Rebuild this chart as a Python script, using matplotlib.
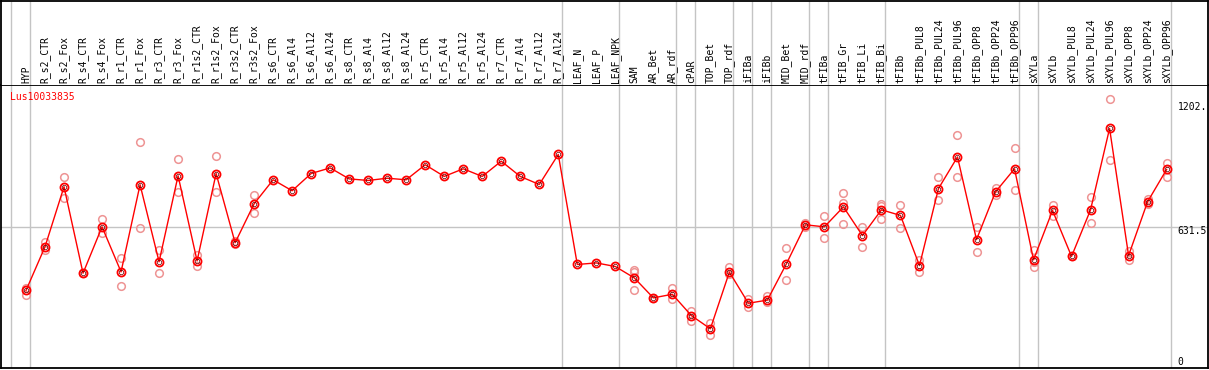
import numpy as np
import matplotlib
matplotlib.use("Agg")
import matplotlib.pyplot as plt
import matplotlib.transforms as mtransforms

# sample names, left to right
samples = [
    "HYP", "R_s2_CTR", "R_s2_Fox", "R_s4_CTR", "R_s4_Fox", "R_r1_CTR", "R_r1_Fox",
    "R_r3_CTR", "R_r3_Fox", "R_r1s2_CTR", "R_r1s2_Fox", "R_r3s2_CTR", "R_r3s2_Fox",
    "R_s6_CTR", "R_s6_Al4", "R_s6_Al12", "R_s6_Al24", "R_s8_CTR", "R_s8_Al4",
    "R_s8_Al12", "R_s8_Al24", "R_r5_CTR", "R_r5_Al4", "R_r5_Al12", "R_r5_Al24",
    "R_r7_CTR", "R_r7_Al4", "R_r7_Al12", "R_r7_Al24", "LEAF_N", "LEAF_P", "LEAF_NPK",
    "SAM", "AR_Bet", "AR_rdf", "cPAR", "TOP_Bet", "TOP_rdf", "iFIBa", "iFIBb",
    "MID_Bet", "MID_rdf", "tFIBa", "tFIB_Gr", "tFIB_Li", "tFIB_Bi", "tFIBb",
    "tFIBb_PUL8", "tFIBb_PUL24", "tFIBb_PUL96", "tFIBb_OPP8", "tFIBb_OPP24",
    "tFIBb_OPP96", "sXYLa", "sXYLb", "sXYLb_PUL8", "sXYLb_PUL24", "sXYLb_PUL96",
    "sXYLb_OPP8", "sXYLb_OPP24", "sXYLb_OPP96",
]

# mean expression per sample
means = [
    346, 541, 809, 423, 630, 429, 818, 474, 858, 478, 868, 559, 733,
    840, 791, 868, 893, 844, 837, 847, 840, 907, 855, 889, 855, 923, 855, 819, 953,
    462, 469, 453, 402, 313, 329, 234, 175, 428, 289, 303, 465, 639,
    630, 719, 591, 706, 681, 457, 801, 942, 573, 786, 889,
    483, 703, 498, 706, 1069, 502, 742, 886,
]

# individual replicates (pale circles)
replicates = [
    [358, 325], [563, 526], [853, 760], [423, 423], [663, 603], [489, 368],
    [1010, 626], [526, 423], [934, 785], [505, 454], [947, 785], [552, 565],
    [773, 693], [], [], [], [], [], [], [], [], [], [], [], [], [], [], [], [],
    [], [], [], [438, 428, 349], [313, 313], [359, 309], [255, 208], [202, 148],
    [452, 420], [307, 274], [320, 294], [536, 394], [649, 628], [679, 578],
    [779, 737, 643], [630, 541], [731, 724, 666], [728, 626], [483, 428],
    [853, 751], [1038, 853], [630, 519], [804, 774], [983, 795],
    [527, 472, 452], [728, 677], [498, 498], [765, 648], [1202, 929],
    [521, 483], [753, 733], [917, 852],
]

# last sample index of each group (vertical separators)
group_ends = [-1, 0, 28, 31, 34, 35, 37, 38, 39, 41, 42, 45, 52, 53, 60]

gene = "Lus10033835"
y_max = 1263
y_labels = ["1202.", "631.5", "0"]
y_label_vals = [1202, 631.5, 0]

W, H = 1209, 370
FONT = "DejaVu Sans Mono"
GRID = "#c4c4c4"

fig = plt.figure(figsize=(W / 100, H / 100), dpi=100)
ax = fig.add_axes([1 / W, 2 / H, 1207 / W, 283 / H])
hdr = fig.add_axes([1 / W, (H - 85) / H, 1207 / W, 84.5 / H])

x = np.arange(len(samples))
xlim = ((1 - 26) / 19.01, (1208 - 26) / 19.01)

for a in (ax, hdr):
    a.set_xlim(*xlim)
    a.set_xticks([])
    a.set_yticks([])
    for s in a.spines.values():
        s.set_linewidth(1.3)
        s.set_color("black")
    for g in group_ends:
        a.axvline(g + 0.21, color=GRID, lw=1, zorder=0)

hdr.set_ylim(0, 1)
hdr.spines["bottom"].set_visible(False)

ax.set_ylim(0, y_max)
ax.axhline(y_max / 2, color=GRID, lw=1, zorder=0)

# replicate points
for i, reps in enumerate(replicates):
    if reps:
        ax.plot([i] * len(reps), reps, "o", ms=5.5, mfc="none", mec="#ee9494",
                mew=1.1, zorder=2)

ax.plot(x, means, color="red", lw=1, zorder=3)
ax.plot(x, means, "o", ms=5.8, mfc="none", mec="red", mew=1.3, zorder=4)
ax.plot(x, means, "o", ms=3.2, mfc="none", mec="#600000", mew=0.5, zorder=5)

# column labels
trans = mtransforms.blended_transform_factory(hdr.transData, hdr.transAxes)
for i, name in enumerate(samples):
    hdr.text(i, 0.025, name, rotation=90, ha="center", va="bottom",
             fontsize=7, family=FONT, transform=trans)

fig.text(10 / W, (H - 97) / H, gene, color="red", fontsize=7, family=FONT,
         ha="left", va="center")

offsets = [-8, -4, 6]
for lab, val, off in zip(y_labels, y_label_vals, offsets):
    ax.annotate(lab, xy=(0.975, val), xycoords=("axes fraction", "data"),
                xytext=(0, off), textcoords="offset pixels",
                ha="left", va="center", fontsize=7, family=FONT,
                annotation_clip=False)

fig.savefig("out.png", dpi=100)
